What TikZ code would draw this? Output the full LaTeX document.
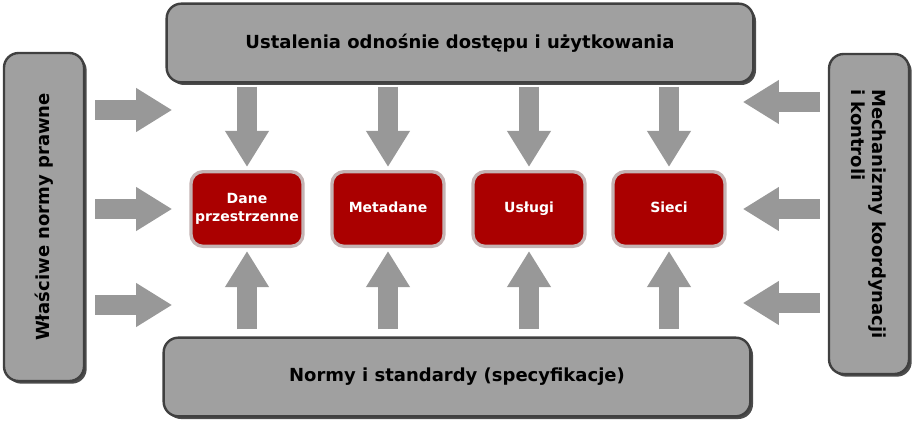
\documentclass[tikz,border=0pt]{standalone}
\usepackage{fontspec}
\setmainfont{DejaVu Sans}
\usetikzlibrary{arrows.meta,shadows,calc}
\definecolor{panelgray}{HTML}{A0A0A0}
\definecolor{darkred}{HTML}{AA0000}
\definecolor{rimgray}{HTML}{C4B4B4}
\tikzset{
  panel/.style={draw=black!75, line width=1.8pt, fill=panelgray, rounded corners=11pt,
    drop shadow={shadow xshift=2pt, shadow yshift=-2pt, fill=black!70, opacity=1},
    font=\bfseries\fontsize{13.5}{16}\selectfont, align=center, inner sep=0pt},
  topic/.style={draw=rimgray, line width=2.5pt, fill=darkred, rounded corners=9pt,
    text=white, font=\bfseries\fontsize{10.5}{13}\selectfont, align=center,
    minimum width=84pt, minimum height=56pt, inner sep=0pt},
  fat/.style={line width=15pt, draw=panelgray!95!black,
    -{Triangle[width=31pt,length=27pt]}}
}
\begin{document}
\begin{tikzpicture}[x=0.75pt, y=-0.75pt]
  \useasboundingbox (0,0) rectangle (912,424);

  % outer panels
  \node[panel, minimum width=440pt, minimum height=59pt] (access) at (460,43)
    {Ustalenia odnośnie dostępu i użytkowania};
  \node[panel, minimum width=440pt, minimum height=59pt] (norms) at (457,377)
    {Normy i standardy (specyfikacje)};
  \node[panel, minimum width=60pt, minimum height=246pt] (law) at (44,217) {};
  \node[rotate=90, font=\bfseries\fontsize{13.5}{16}\selectfont] at (law) {Właściwe normy prawne};
  \node[panel, minimum width=60pt, minimum height=240pt] (coord) at (869,214) {};
  \node[rotate=-90, align=left, font=\bfseries\fontsize{13.5}{16}\selectfont] at (coord)
    {Mechanizmy koordynacji\\i kontroli};

  % central topics
  \node[topic] (spatial) at (247,209) {\raisebox{3pt}{\shortstack{Dane\\[3pt]przestrzenne}}};
  \node[topic] (meta)    at (388,209) {\raisebox{3pt}{Metadane}};
  \node[topic] (serv)    at (529,209) {\raisebox{3pt}{Usługi}};
  \node[topic] (net)     at (669,209) {\raisebox{3pt}{Sieci}};

  % arrows from above and below
  \foreach \t in {spatial,meta,serv,net}{
    \draw[fat] ($(access.south -| \t)+(0,3)$) -- ($(\t.north)+(0,-3)$);
    \draw[fat] ($(norms.north -| \t)+(0,-7)$) -- ($(\t.south)+(0,3)$);
  }

  % arrows from the sides
  \foreach \yy in {110,209,305}{
    \coordinate (l\yy) at ($(law.east)+(10,\yy-217)$);
    \draw[fat] (l\yy) -- +(77,0);
  }
  \foreach \yy in {102,209,303}{
    \coordinate (r\yy) at ($(coord.west)+(-8,\yy-214)$);
    \draw[fat] (r\yy) -- +(-77,0);
  }
\end{tikzpicture}
\end{document}
